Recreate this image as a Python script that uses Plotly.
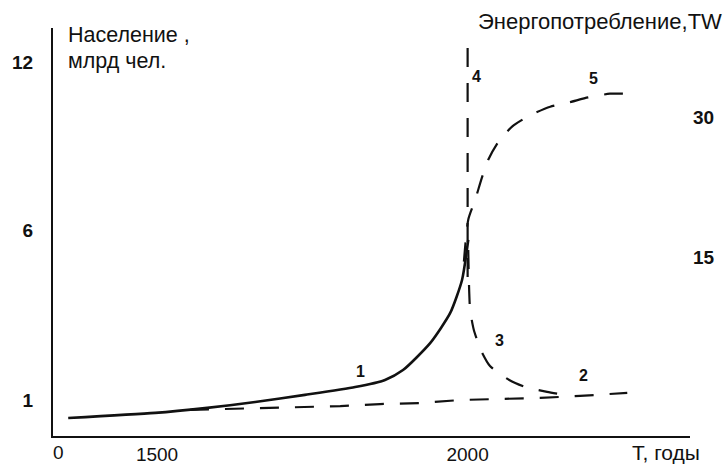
import plotly.graph_objects as go

# ---- data ----
# curve 1: population (solid), billions
years_1 = [1357, 1497, 1577, 1658, 1738, 1819, 1867, 1896, 1940, 1972, 1991, 2001]
pop_1 = [0.47, 0.62, 0.76, 0.94, 1.15, 1.38, 1.59, 1.88, 2.68, 3.56, 4.53, 5.71]
# curve 2: dashed, nearly flat
years_2 = [1553, 1650, 1730, 1795, 1859, 1924, 1988, 2052, 2117, 2181, 2257]
pop_2 = [0.71, 0.76, 0.79, 0.82, 0.88, 0.91, 1.0, 1.03, 1.06, 1.12, 1.21]
# curve 3: dashed, falling after the peak
years_3 = [2001, 2002, 2004, 2010, 2022, 2036, 2067, 2093, 2128, 2157]
pop_3 = [5.41, 4.53, 3.65, 3.06, 2.44, 2.0, 1.59, 1.38, 1.24, 1.15]
# curve 4: dashed vertical asymptote
years_4 = [2000, 2000]
pop_4 = [12.5, 4.4]
# curve 5: energy consumption, TW (dashed)
years_5 = [1994, 2001, 2012, 2023, 2033, 2049, 2072, 2101, 2133, 2165, 2194, 2229, 2257]
energy_5 = [14.5, 19.0, 21.1, 23.5, 25.4, 27.3, 29.0, 30.2, 31.1, 31.6, 32.1, 32.5, 32.5]

pop_ticks = [1, 6, 12]
energy_ticks = [15, 30]
year_ticks = [1500, 2000]
curve_labels = ["1", "2", "3", "4", "5"]
# where the curve numbers sit: (year, value, axis)
label_years = [1827, 2186, 2051, 2015, 2202]
label_values = [1.85, 1.71, 2.74, 34.3, 34.1]
label_axes = ["y", "y", "y", "y2", "y2"]

# schematic population axis: upper part (above 6) is compressed
UPPER_FACTOR = 28 / 34


def pop_axis(v):
    return [p if p <= 6 else 6 + (p - 6) * UPPER_FACTOR for p in v]


BLACK = "#111111"
DASH = "19px,16px"
FAMILY = "Liberation Sans, Arial"

fig = go.Figure()
fig.add_trace(go.Scatter(x=years_1, y=pop_axis(pop_1), mode="lines",
                         line=dict(color=BLACK, width=2.6, shape="spline", smoothing=0.6),
                         showlegend=False, hoverinfo="skip"))
fig.add_trace(go.Scatter(x=years_2, y=pop_axis(pop_2), mode="lines",
                         line=dict(color=BLACK, width=2.2, dash=DASH),
                         showlegend=False, hoverinfo="skip"))
fig.add_trace(go.Scatter(x=years_3, y=pop_axis(pop_3), mode="lines",
                         line=dict(color=BLACK, width=2.2, dash=DASH, shape="spline", smoothing=0.6),
                         showlegend=False, hoverinfo="skip"))
fig.add_trace(go.Scatter(x=years_4, y=pop_axis(pop_4), mode="lines",
                         line=dict(color=BLACK, width=2.2, dash=DASH),
                         showlegend=False, hoverinfo="skip"))
fig.add_trace(go.Scatter(x=years_5, y=energy_5, mode="lines", yaxis="y2",
                         line=dict(color=BLACK, width=2.2, dash=DASH, shape="spline", smoothing=0.6),
                         showlegend=False, hoverinfo="skip"))

tick_font_bold = dict(family=FAMILY, size=19, color=BLACK, weight="bold")
title_font = dict(family=FAMILY, size=21.5, color=BLACK)

fig.update_layout(
    width=727, height=465,
    margin=dict(l=53, r=37, t=28, b=29, autoexpand=False),
    paper_bgcolor="white", plot_bgcolor="white",
    xaxis=dict(range=[1332.5, 2358], tickvals=year_ticks, ticktext=[str(y) for y in year_ticks],
               showline=True, linecolor=BLACK, linewidth=2, showgrid=False, zeroline=False,
               ticks="", tickfont=dict(family=FAMILY, size=19, color=BLACK),
               ticklabelstandoff=0, automargin=False),
    yaxis=dict(range=[-0.059, 11.94], tickvals=pop_axis(pop_ticks), ticktext=[str(p) for p in pop_ticks],
               showline=True, linecolor=BLACK, linewidth=2, showgrid=False, zeroline=False,
               ticks="", tickfont=tick_font_bold, ticklabelstandoff=14, automargin=False),
    yaxis2=dict(range=[-4.18, 39.54], overlaying="y", side="right", tickvals=energy_ticks,
                ticktext=[str(e) for e in energy_ticks], showline=False, showgrid=False,
                zeroline=False, ticks="", tickfont=tick_font_bold, ticklabelstandoff=2,
                automargin=False),
)

# axis titles and origin label
fig.add_annotation(text="Население ,", xref="paper", yref="paper", x=0.021, y=0.983,
                   xanchor="left", yanchor="middle", showarrow=False, font=title_font)
fig.add_annotation(text="млрд чел.", xref="paper", yref="paper", x=0.021, y=0.919,
                   xanchor="left", yanchor="middle", showarrow=False, font=title_font)
fig.add_annotation(text="Энергопотребление,TW", xref="paper", yref="paper", x=1.053, y=1.015,
                   xanchor="right", yanchor="middle", showarrow=False,
                   font=dict(family=FAMILY, size=22, color=BLACK))
fig.add_annotation(text="0", xref="paper", yref="paper", x=0.009, y=0, yshift=-16,
                   xanchor="center", yanchor="middle", showarrow=False,
                   font=dict(family=FAMILY, size=19, color=BLACK))
fig.add_annotation(text="T, годы", xref="paper", yref="paper", x=0.962, y=0, yshift=-16,
                   xanchor="center", yanchor="middle", showarrow=False,
                   font=dict(family=FAMILY, size=21, color=BLACK))

# curve number labels
for txt, lx, ly, ax in zip(curve_labels, label_years, label_values, label_axes):
    fig.add_annotation(text=txt, x=lx, y=ly, xref="x", yref=ax, showarrow=False,
                       font=dict(family=FAMILY, size=16, color=BLACK, weight="bold"))

fig.write_html("out.html", config={"displayModeBar": False},
               post_script="document.body.style.margin='0';")
